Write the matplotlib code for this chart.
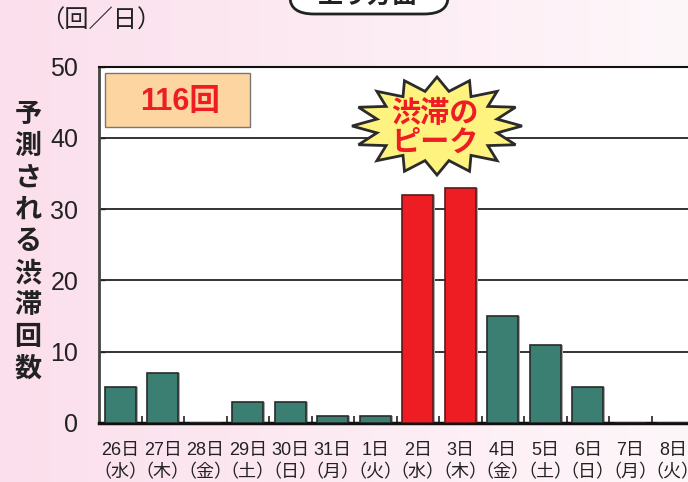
import matplotlib
matplotlib.use("Agg")
import matplotlib.pyplot as plt
import numpy as np
from matplotlib.patches import Polygon, FancyBboxPatch

JP = ["Liberation Sans", "Noto Sans CJK JP", "DejaVu Sans"]
plt.rcParams["font.family"] = JP

days     = ["26日", "27日", "28日", "29日", "30日", "31日", "1日",
            "2日", "3日", "4日", "5日", "6日", "7日", "8日"]
weekdays = ["水", "木", "金", "土", "日", "月", "火",
            "水", "木", "金", "土", "日", "月", "火"]
counts   = [5, 7, 0, 3, 3, 1, 1, 32, 33, 15, 11, 5, 0, 0]
peak_days = ["2日", "3日"]
total_label = "116回"
ylabel_text = "予測される渋滞回数"
unit_text = "（回／日）"
title_text = "上り方面"
peak_text = "渋滞の\nピーク"

W, H = 688, 482
TEAL = "#3b7f72"
RED = "#ee1d24"

fig = plt.figure(figsize=(W / 100, H / 100), dpi=100)

# pink gradient background
bg = fig.add_axes([0, 0, 1, 1], zorder=-5)
grad = np.linspace(0, 1, 256)[None, :, None]
left_c = np.array([251, 223, 236]) / 255
right_c = np.array([254, 247, 250]) / 255
bg.imshow(left_c + (right_c - left_c) * grad, aspect="auto", extent=[0, 1, 0, 1])
bg.set_axis_off()

def px(x, y):
    return x / W, 1 - y / H

ax = fig.add_axes([99 / W, (H - 423) / H, (694 - 99) / W, (423 - 66.5) / H])
ax.set_facecolor("white")
x = np.arange(len(days))
colors = [RED if d in peak_days else TEAL for d in days]
edges = ["#5a1a1a" if d in peak_days else "#2a2a2a" for d in days]

ax.bar(x + 0.05, counts, width=0.73, color="#a8a8a8", zorder=2)
ax.bar(x, counts, width=0.73, color=colors, edgecolor=edges, linewidth=1.2, zorder=3)

ax.set_xlim(-0.5, len(days) - 0.5)
ax.set_ylim(0, 50)
ax.set_yticks([0, 10, 20, 30, 40, 50])
ax.tick_params(axis="y", direction="in", length=4, width=1, pad=15, labelsize=18,
               colors="#222")
for yv in [10, 20, 30, 40]:
    ax.axhline(yv, color="#111", lw=1.2, zorder=1)

ax.set_xticks(x)
ax.set_xticklabels([f"{d}\n（{w}）" for d, w in zip(days, weekdays)],
                   fontsize=13, linespacing=1.38)
ax.tick_params(axis="x", which="major", length=0, pad=14, colors="#222")
ax.set_xticks(x[:-1] + 0.5, minor=True)
ax.tick_params(axis="x", which="minor", direction="in", length=5, width=1.2, color="#222")

ax.spines["right"].set_visible(False)
ax.spines["top"].set_linewidth(1.5)
ax.spines["top"].set_color("#111")
ax.spines["left"].set_linewidth(2)
ax.spines["left"].set_color("#444")
ax.spines["bottom"].set_linewidth(2.5)
ax.spines["bottom"].set_color("#111")

# stacked vertical y label
for i, ch in enumerate(ylabel_text):
    fig.text(*px(28, 115 + i * 31.8), ch, ha="center", va="center",
             fontsize=19.5, fontweight="bold", color="#222")

fig.text(*px(101, 21), unit_text, ha="center", va="center", fontsize=17.5, color="#222")

# total box
fig.patches.append(FancyBboxPatch(px(105, 127), 145 / W, 54 / H, boxstyle="square,pad=0",
                                  transform=fig.transFigure, facecolor="#fdd5a0",
                                  edgecolor="#777", lw=1, zorder=4))
fig.text(*px(180, 102), total_label, ha="center", va="center", fontsize=22,
         fontweight="bold", color=RED, zorder=5)

# title box cut off at the top
fig.patches.append(FancyBboxPatch(px(290, 14), 158 / W, 40 / H,
                                  boxstyle="round,pad=0,rounding_size=0.035",
                                  transform=fig.transFigure, facecolor="white",
                                  edgecolor="#222", lw=2, zorder=4))
fig.text(*px(368, 3), title_text, ha="center", va="baseline", fontsize=18,
         fontweight="bold", color="#222", zorder=5)

# starburst
cx, cy, rx, ry, n = 437, 126, 85, 49, 16
ang = np.pi / 2 - np.arange(2 * n) * np.pi / n
rad = np.where(np.arange(2 * n) % 2 == 0, 1.0, 0.72)
pts = [px(cx + rx * r * np.cos(a), cy - ry * r * np.sin(a)) for a, r in zip(ang, rad)]
fig.patches.append(Polygon(pts, closed=True, transform=fig.transFigure,
                           facecolor="#fff380", edgecolor="#2b2b2b", lw=2, zorder=4))
fig.text(*px(435, 128), peak_text, ha="center", va="center", fontsize=21,
         fontweight="bold", color=RED, linespacing=1.05, zorder=5)

fig.savefig("out.png", dpi=100)
